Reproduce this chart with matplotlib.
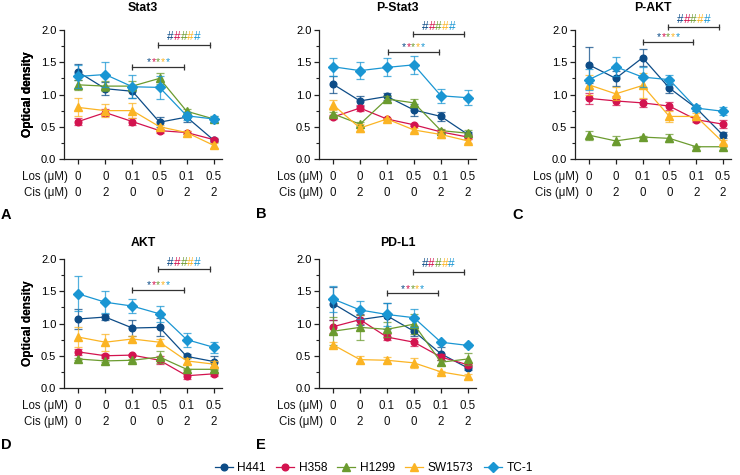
import matplotlib
matplotlib.use('Agg')
import matplotlib.pyplot as plt
from matplotlib.lines import Line2D

plt.rcParams['font.family'] = ['Liberation Sans', 'DejaVu Sans']

# ---------------- data ----------------
cell_lines = ['H441', 'H358', 'H1299', 'SW1573', 'TC-1']
los_labels = ['0', '0', '0.1', '0.5', '0.1', '0.5']
cis_labels = ['0', '2', '0', '0', '2', '2']
panel_titles = ['Stat3', 'P-Stat3', 'P-AKT', 'AKT', 'PD-L1']
panel_letters = ['A', 'B', 'C', 'D', 'E']

stat3_mean = [[1.35, 1.09, 1.05, 0.57, 0.65, 0.29],
              [0.58, 0.72, 0.58, 0.44, 0.41, 0.30],
              [1.15, 1.13, 1.13, 1.25, 0.74, 0.62],
              [0.80, 0.75, 0.75, 0.50, 0.41, 0.21],
              [1.28, 1.31, 1.12, 1.11, 0.67, 0.62]]
stat3_err = [[0.12, 0.10, 0.10, 0.08, 0.08, 0.02],
             [0.05, 0.05, 0.05, 0.03, 0.02, 0.02],
             [0.08, 0.08, 0.08, 0.08, 0.03, 0.05],
             [0.14, 0.10, 0.12, 0.03, 0.02, 0.04],
             [0.18, 0.19, 0.18, 0.18, 0.06, 0.05]]

pstat3_mean = [[1.16, 0.90, 0.97, 0.76, 0.66, 0.38],
               [0.65, 0.79, 0.62, 0.53, 0.42, 0.34],
               [0.70, 0.54, 0.93, 0.87, 0.44, 0.40],
               [0.84, 0.48, 0.62, 0.45, 0.38, 0.28],
               [1.43, 1.37, 1.42, 1.46, 0.98, 0.95]]
pstat3_err = [[0.13, 0.08, 0.05, 0.10, 0.07, 0.04],
              [0.03, 0.05, 0.02, 0.02, 0.03, 0.03],
              [0.03, 0.03, 0.04, 0.06, 0.03, 0.05],
              [0.08, 0.06, 0.02, 0.03, 0.05, 0.03],
              [0.14, 0.13, 0.14, 0.14, 0.11, 0.12]]

pakt_mean = [[1.46, 1.25, 1.57, 1.10, 0.79, 0.37],
             [0.94, 0.90, 0.87, 0.82, 0.61, 0.54],
             [0.37, 0.28, 0.34, 0.32, 0.19, 0.19],
             [1.15, 1.01, 1.14, 0.66, 0.66, 0.26],
             [1.23, 1.43, 1.27, 1.23, 0.79, 0.74]]
pakt_err = [[0.28, 0.12, 0.13, 0.07, 0.05, 0.05],
            [0.08, 0.07, 0.06, 0.06, 0.04, 0.06],
            [0.07, 0.07, 0.02, 0.06, 0.01, 0.01],
            [0.15, 0.10, 0.20, 0.08, 0.05, 0.03],
            [0.16, 0.15, 0.16, 0.08, 0.05, 0.06]]

akt_mean = [[1.07, 1.10, 0.93, 0.94, 0.49, 0.41],
            [0.56, 0.50, 0.51, 0.43, 0.19, 0.22],
            [0.45, 0.42, 0.43, 0.48, 0.29, 0.29],
            [0.79, 0.71, 0.76, 0.71, 0.42, 0.37],
            [1.46, 1.33, 1.27, 1.15, 0.75, 0.63]]
akt_err = [[0.15, 0.05, 0.13, 0.14, 0.03, 0.08],
           [0.05, 0.03, 0.02, 0.06, 0.05, 0.03],
           [0.02, 0.02, 0.02, 0.10, 0.01, 0.01],
           [0.16, 0.13, 0.05, 0.05, 0.05, 0.05],
           [0.27, 0.17, 0.11, 0.12, 0.11, 0.08]]

pdl1_mean = [[1.31, 1.06, 1.12, 0.88, 0.53, 0.31],
             [0.95, 1.06, 0.79, 0.71, 0.48, 0.36],
             [0.88, 0.94, 0.91, 0.99, 0.40, 0.45],
             [0.67, 0.44, 0.43, 0.39, 0.25, 0.18],
             [1.38, 1.21, 1.14, 1.09, 0.71, 0.66]]
pdl1_err = [[0.25, 0.08, 0.20, 0.08, 0.10, 0.03],
            [0.10, 0.07, 0.05, 0.06, 0.05, 0.03],
            [0.22, 0.19, 0.12, 0.15, 0.04, 0.10],
            [0.04, 0.05, 0.05, 0.08, 0.02, 0.04],
            [0.20, 0.14, 0.18, 0.14, 0.02, 0.02]]

panel_means = [stat3_mean, pstat3_mean, pakt_mean, akt_mean, pdl1_mean]
panel_errs = [stat3_err, pstat3_err, pakt_err, akt_err, pdl1_err]

# ---------------- styles / layout ----------------
colors = ['#0d4c87', '#d3134f', '#6b9b2f', '#fbb424', '#1a96d3']
markers = ['o', 'o', '^', '^', 'D']
msizes = [4.8, 4.8, 5.2, 5.2, 5.0]

W, H = 740, 475
# axes boxes in pixels: left, top, right, bottom
boxes = [(64, 30, 222, 159), (319, 30, 476, 159), (575, 30, 731, 159),
         (64, 259, 222, 388), (319, 259, 476, 388)]
letter_pos = [(6, 215), (261, 214), (518, 215), (6, 445), (261, 445)]
title_y = [8, 8, 8, 243, 243]
# significance brackets: (x0, x1, y_line, y_text)
star_br = [(2.0, 3.9, 1.43, 1.54), (2.02, 3.92, 1.66, 1.78), (2.01, 3.9, 1.81, 1.93),
           (2.0, 3.9, 1.52, 1.64), (2.0, 3.9, 1.47, 1.58)]
hash_br = [(2.94, 4.85, 1.77, 1.91), (2.97, 4.86, 1.94, 2.06), (2.95, 4.85, 2.05, 2.17),
           (2.95, 4.85, 1.84, 1.96), (2.95, 4.85, 1.80, 1.94)]

fig = plt.figure(figsize=(W / 100, H / 100), dpi=100)
xs = list(range(len(los_labels)))
spine_c = '#222222'

for p in range(5):
    l, t, r, b = boxes[p]
    ax = fig.add_axes([l / W, 1 - b / H, (r - l) / W, (b - t) / H])
    for i in range(5):
        eb = ax.errorbar(xs, panel_means[p][i], yerr=panel_errs[p][i], color=colors[i],
                         marker=markers[i], ms=msizes[i], lw=0.9, elinewidth=0.9,
                         capsize=2.6, capthick=0.9, clip_on=False, zorder=3 + i)
        for cl in eb[1]:
            cl.set_alpha(0.75)
        for bl in eb[2]:
            bl.set_alpha(0.75)
    ax.set_xlim(-0.52, 5.3)
    ax.set_ylim(0, 2.0)
    for s in ['top', 'right']:
        ax.spines[s].set_visible(False)
    for s in ['left', 'bottom']:
        ax.spines[s].set_color(spine_c)
        ax.spines[s].set_linewidth(0.9)
    ax.set_yticks([0, 0.5, 1.0, 1.5, 2.0])
    ax.set_yticklabels(['0.0', '0.5', '1.0', '1.5', '2.0'])
    ax.set_yticks([0.25, 0.75, 1.25, 1.75], minor=True)
    ax.set_xticks(xs)
    ax.set_xticklabels([])
    ax.tick_params(axis='both', which='major', direction='out', length=3.5, width=0.9,
                   color=spine_c, labelsize=8.0, pad=2)
    ax.tick_params(axis='y', which='minor', direction='out', length=2, width=0.8, color=spine_c)

    # category rows
    for j in xs:
        ax.annotate(los_labels[j], xy=(j, 0), xycoords=('data', 'axes fraction'),
                    xytext=(0, -13), textcoords='offset points', ha='center', va='center',
                    fontsize=8.3, color='#111111')
        ax.annotate(cis_labels[j], xy=(j, 0), xycoords=('data', 'axes fraction'),
                    xytext=(0, -24.5), textcoords='offset points', ha='center', va='center',
                    fontsize=8.3, color='#111111')
    ax.annotate('Los (\u03bcM)', xy=(-0.36, 0), xycoords=('data', 'axes fraction'),
                xytext=(0, -13), textcoords='offset points', ha='right', va='center',
                fontsize=8.3, color='#111111')
    ax.annotate('Cis (\u03bcM)', xy=(-0.36, 0), xycoords=('data', 'axes fraction'),
                xytext=(0, -24.5), textcoords='offset points', ha='right', va='center',
                fontsize=8.3, color='#111111')

    ax.text(-(l - 28) / (r - l), 0.5, 'Optical density', rotation=90, ha='center',
            va='center', transform=ax.transAxes, fontsize=8.6, fontweight='bold')
    fig.text((l + r) / 2 / W, 1 - title_y[p] / H, panel_titles[p], ha='center', va='center',
             fontsize=8.8, fontweight='bold')
    fig.text(letter_pos[p][0] / W, 1 - letter_pos[p][1] / H, panel_letters[p], ha='center',
             va='center', fontsize=10.5, fontweight='bold')

    # brackets
    for (x0, x1, yl, yt), ch, sp, fs, dy in [(star_br[p], '*', 3.4, 7.5, -4.2),
                                            (hash_br[p], '#', 4.8, 8.6, -3.0)]:
        ax.plot([x0, x1], [yl, yl], color='#333333', lw=0.9, marker='|', ms=5, mew=0.9,
                clip_on=False, zorder=10)
        xm = (x0 + x1) / 2
        for i, c in enumerate(colors):
            ax.annotate(ch, xy=(xm, yt), xytext=((i - 2) * sp, dy), textcoords='offset points',
                        ha='center', va='baseline', color=c, fontsize=fs,
                        annotation_clip=False)

handles = [Line2D([0], [0], color=colors[i], marker=markers[i], ms=msizes[i], lw=0.9)
           for i in range(5)]
fig.legend(handles, cell_lines, loc='center', bbox_to_anchor=(0.505, 1 - 468 / H), ncol=5,
           frameon=False, fontsize=8.6, handlelength=1.5, handletextpad=0.4,
           columnspacing=0.85, borderpad=0, borderaxespad=0)

fig.savefig('out.png', dpi=100)
